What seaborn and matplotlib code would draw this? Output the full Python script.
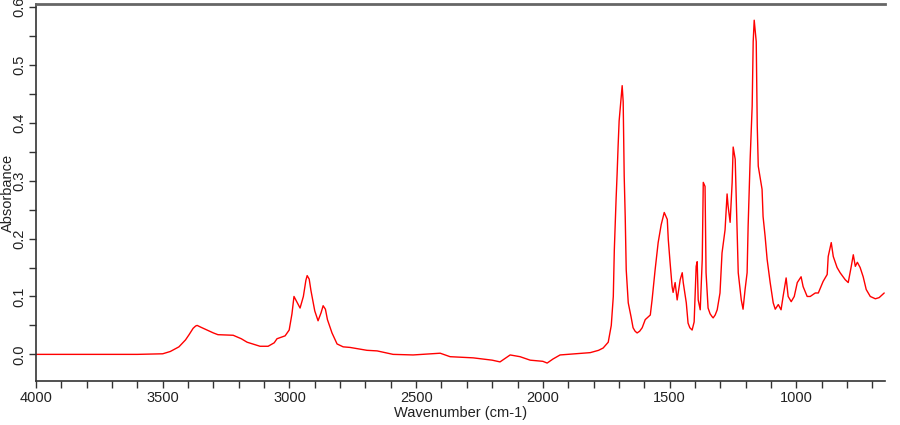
import numpy as np
import pandas as pd
import matplotlib
matplotlib.use("Agg")
import matplotlib.pyplot as plt
import seaborn as sns
from matplotlib.ticker import MultipleLocator

# IR absorbance spectrum
wavenumber = [
    4000, 3800, 3600, 3500, 3470, 3436, 3410, 3396, 3380, 3370, 3364, 3350, 3320, 3300, 3282,
    3222, 3190, 3167, 3116, 3084, 3060, 3049, 3017, 3001, 2990, 2982, 2970, 2958, 2945, 2935, 2930,
    2922, 2915, 2900, 2887, 2875, 2867, 2858, 2850, 2832, 2812, 2788, 2761, 2694, 2654, 2591, 2512,
    2405, 2366, 2275, 2200, 2169, 2129, 2090, 2050, 2000, 1983, 1960, 1932, 1841,
    1813, 1780, 1762, 1742, 1730, 1722, 1718, 1711, 1707, 1703, 1699, 1691, 1687,
    1683, 1679, 1675, 1671, 1663, 1652, 1644, 1636, 1628, 1618, 1608, 1596, 1576, 1569, 1557,
    1545, 1533, 1521, 1509, 1505, 1498, 1490, 1486, 1478, 1470, 1458, 1450, 1446,
    1434, 1427, 1420, 1411, 1403, 1395, 1391, 1387, 1379, 1371, 1367, 1360, 1356, 1348,
    1340, 1332, 1328, 1320, 1312, 1301, 1293, 1281, 1273, 1269, 1261, 1253, 1249, 1241, 1233,
    1229, 1217, 1210, 1202, 1194, 1190, 1182, 1174, 1170, 1166, 1158, 1154, 1150,
    1135, 1131, 1123, 1115, 1103, 1091, 1083, 1071, 1060, 1052, 1040, 1032, 1020,
    1008, 996, 981, 973, 957, 945, 925, 913, 894, 878, 874, 862, 854, 839, 827,
    807, 795, 783, 775, 767, 759, 748, 736, 724, 708, 688, 673, 653,
]
absorbance = [
    0.000, 0.000, 0.000, 0.001, 0.005, 0.013, 0.025, 0.034, 0.045, 0.049, 0.050, 0.047, 0.041, 0.037, 0.034,
    0.033, 0.027, 0.021, 0.014, 0.014, 0.020, 0.027, 0.032, 0.042, 0.070, 0.100, 0.090, 0.080, 0.100, 0.128, 0.136,
    0.130, 0.110, 0.075, 0.058, 0.072, 0.084, 0.078, 0.060, 0.037, 0.018, 0.013, 0.012, 0.007, 0.006, 0.000, -0.001,
    0.002, -0.004, -0.006, -0.010, -0.013, -0.001, -0.004, -0.010, -0.012, -0.015, -0.008, -0.001, 0.002,
    0.003, 0.007, 0.011, 0.021, 0.050, 0.100, 0.180, 0.268, 0.311, 0.360, 0.403, 0.445, 0.464,
    0.436, 0.308, 0.238, 0.146, 0.089, 0.065, 0.046, 0.040, 0.037, 0.040, 0.046, 0.060, 0.068, 0.094, 0.146,
    0.193, 0.224, 0.245, 0.233, 0.198, 0.159, 0.117, 0.107, 0.124, 0.094, 0.129, 0.141, 0.124,
    0.089, 0.054, 0.046, 0.042, 0.056, 0.152, 0.160, 0.094, 0.077, 0.164, 0.297, 0.290, 0.141, 0.080,
    0.070, 0.065, 0.063, 0.068, 0.077, 0.106, 0.175, 0.215, 0.277, 0.256, 0.228, 0.297, 0.358, 0.337, 0.210,
    0.141, 0.094, 0.078, 0.112, 0.141, 0.221, 0.337, 0.429, 0.540, 0.577, 0.540, 0.395, 0.325,
    0.285, 0.238, 0.204, 0.164, 0.124, 0.089, 0.078, 0.086, 0.077, 0.100, 0.132, 0.100, 0.091,
    0.100, 0.124, 0.134, 0.117, 0.100, 0.100, 0.106, 0.106, 0.126, 0.138, 0.169, 0.193, 0.169, 0.150, 0.141,
    0.129, 0.124, 0.152, 0.172, 0.152, 0.159, 0.150, 0.134, 0.112, 0.100, 0.096, 0.098, 0.106,
]

df = pd.DataFrame({"wn": wavenumber, "abs": absorbance})

sns.set_style("white")
plt.rcParams["font.family"] = ["Liberation Sans", "DejaVu Sans"]

fig = plt.figure(figsize=(9, 4.25), dpi=100)
ax = fig.add_axes([0.04, 0.1035, 0.9433, 0.8871])

sns.lineplot(data=df, x="wn", y="abs", color="red", linewidth=1.0,
             estimator=None, sort=False, ax=ax)

ax.set_xlim(4000, 650)
ax.set_ylim(-0.046, 0.605)
ax.xaxis.set_major_locator(MultipleLocator(500))
ax.xaxis.set_minor_locator(MultipleLocator(100))
ax.yaxis.set_minor_locator(MultipleLocator(0.05))
ax.set_yticks(np.arange(0, 0.61, 0.1))
ax.set_yticklabels([f"{v:.1f}" for v in np.arange(0, 0.61, 0.1)],
                   rotation=90, va="center")

ax.tick_params(axis="both", which="both", direction="out", length=5,
               width=1, color="#333333", labelsize=10.5, labelcolor="#222222",
               bottom=True, left=True, top=False, right=False)
ax.tick_params(axis="x", pad=2)
ax.tick_params(axis="y", pad=2)

for side in ["left", "bottom"]:
    ax.spines[side].set_color("#333333")
    ax.spines[side].set_linewidth(1.2)
ax.spines["top"].set_color("#666666")
ax.spines["top"].set_linewidth(2)
ax.spines["right"].set_visible(False)

ax.set_xlabel("Wavenumber (cm-1)", fontsize=10.5, color="#222222")
ax.set_ylabel("Absorbance", fontsize=10.5, color="#222222")
ax.xaxis.set_label_coords(0.5, -0.066)
ax.yaxis.set_label_coords(-0.025, 0.5)

fig.savefig("out.png", dpi=100)
